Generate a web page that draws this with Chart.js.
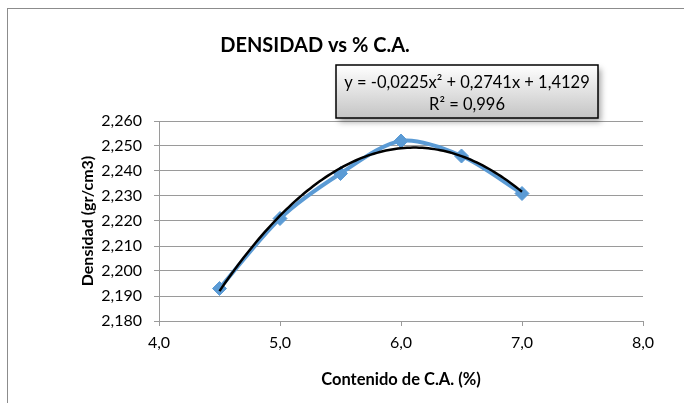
<!DOCTYPE html>
<html>
<head>
<meta charset="utf-8">
<title>DENSIDAD vs % C.A.</title>
<script src="https://cdn.jsdelivr.net/npm/chart.js@4"></script>
<style>
    html, body { margin: 0; padding: 0; background: #ffffff; }
    #wrap { width: 684px; height: 403px; }
</style>
</head>
<body>
<div id="wrap"><canvas id="densidadChart" width="684" height="403"></canvas></div>
<script>
// Data
var contenidoCA = [4.5, 5.0, 5.5, 6.0, 6.5, 7.0];
var densidad = [2.193, 2.221, 2.239, 2.252, 2.246, 2.231];
var xTicks = [4, 5, 6, 7, 8];
var yTicks = [2.18, 2.19, 2.20, 2.21, 2.22, 2.23, 2.24, 2.25, 2.26];
var equationLines = ['y = -0,0225x\u00B2 + 0,2741x + 1,4129', 'R\u00B2 = 0,996'];

var FONT = 'Lato, "Open Sans", sans-serif';
var BLUE = '#5B9BD5';
var GRID = '#9a9a9a';

document.addEventListener('DOMContentLoaded', function() {
    var points = contenidoCA.map(function(x, i) {
        return { x: x, y: densidad[i] };
    });

    // least squares 2nd order polynomial, like the Excel trendline
    function quadFit(xs, ys) {
        var s = [0, 0, 0, 0, 0], t = [0, 0, 0];
        for (var i = 0; i < xs.length; i++) {
            var p = 1;
            for (var k = 0; k < 5; k++) { s[k] += p; if (k < 3) t[k] += p * ys[i]; p *= xs[i]; }
        }
        var m = [[s[0], s[1], s[2], t[0]], [s[1], s[2], s[3], t[1]], [s[2], s[3], s[4], t[2]]];
        for (var c = 0; c < 3; c++) {
            for (var r = c + 1; r < 3; r++) {
                var f = m[r][c] / m[c][c];
                for (var j = c; j < 4; j++) m[r][j] -= f * m[c][j];
            }
        }
        var a = [0, 0, 0];
        for (var r2 = 2; r2 >= 0; r2--) {
            var v = m[r2][3];
            for (var j2 = r2 + 1; j2 < 3; j2++) v -= m[r2][j2] * a[j2];
            a[r2] = v / m[r2][r2];
        }
        return a; // c0 + c1 x + c2 x^2
    }
    var coef = quadFit(contenidoCA, densidad);

    var decorPlugin = {
        id: 'decor',
        beforeDraw: function(chart) {
            var ctx = chart.ctx;
            ctx.save();
            ctx.fillStyle = '#ffffff';
            ctx.fillRect(0, 0, chart.width, chart.height);
            ctx.strokeStyle = '#8c8c8c';
            ctx.lineWidth = 1;
            ctx.strokeRect(7.5, 8.5, 800, 600);
            ctx.restore();
        },
        afterDatasetsDraw: function(chart) {
            var ctx = chart.ctx;
            var xs = chart.scales.x, ys = chart.scales.y;
            var x0 = contenidoCA[0], x1 = contenidoCA[contenidoCA.length - 1];
            ctx.save();
            ctx.strokeStyle = '#000000';
            ctx.lineWidth = 2.5;
            ctx.lineJoin = 'round';
            ctx.beginPath();
            for (var i = 0; i <= 100; i++) {
                var x = x0 + (x1 - x0) * i / 100;
                var y = coef[0] + coef[1] * x + coef[2] * x * x;
                var px = xs.getPixelForValue(x), py = ys.getPixelForValue(y);
                if (i === 0) ctx.moveTo(px, py); else ctx.lineTo(px, py);
            }
            ctx.stroke();
            ctx.restore();
        },
        afterDraw: function(chart) {
            var ctx = chart.ctx;
            ctx.save();
            // title
            ctx.fillStyle = '#000000';
            ctx.font = 'bold 20px ' + FONT;
            ctx.textAlign = 'center';
            ctx.textBaseline = 'middle';
            ctx.fillText('DENSIDAD vs % C.A.', 315, 46);

            // trendline equation box
            var bx = 336, by = 65, bw = 262, bh = 53;
            ctx.save();
            ctx.shadowColor = 'rgba(0,0,0,0.35)';
            ctx.shadowBlur = 6;
            ctx.shadowOffsetX = 3;
            ctx.shadowOffsetY = 4;
            var g = ctx.createLinearGradient(0, by, 0, by + bh);
            g.addColorStop(0, '#ffffff');
            g.addColorStop(1, '#c4c4c4');
            ctx.fillStyle = g;
            ctx.fillRect(bx, by, bw, bh);
            ctx.restore();
            ctx.strokeStyle = '#000000';
            ctx.lineWidth = 1.5;
            ctx.strokeRect(bx, by, bw, bh);
            ctx.fillStyle = '#000000';
            ctx.font = '16.5px ' + FONT;
            ctx.fillText(equationLines[0], bx + bw / 2, 83);
            ctx.fillText(equationLines[1], bx + bw / 2, 105);
            ctx.restore();
        }
    };

    var ctx = document.getElementById('densidadChart').getContext('2d');
    var chart = new Chart(ctx, {
        type: 'line',
        data: {
            datasets: [{
                label: 'Densidad',
                data: points,
                borderColor: BLUE,
                backgroundColor: BLUE,
                borderWidth: 4,
                tension: 0.3,
                pointStyle: 'rectRot',
                pointRadius: 7,
                pointBorderWidth: 1,
                pointBackgroundColor: BLUE,
                pointBorderColor: BLUE,
                fill: false
            }]
        },
        options: {
            responsive: false,
            animation: false,
            devicePixelRatio: 1,
            layout: { padding: { left: 8, right: 41, top: 121, bottom: 0 } },
            plugins: {
                legend: { display: false },
                title: { display: false },
                tooltip: { enabled: false }
            },
            scales: {
                x: {
                    type: 'linear',
                    min: xTicks[0],
                    max: xTicks[xTicks.length - 1],
                    afterBuildTicks: function(scale) {
                        scale.ticks = xTicks.map(function(v) { return { value: v }; });
                    },
                    afterFit: function(scale) { scale.height = 82; },
                    ticks: {
                        color: '#000000',
                        font: { family: FONT, size: 16 },
                        padding: 7,
                        maxRotation: 0,
                        callback: function(v) { return v.toFixed(1).replace('.', ','); }
                    },
                    grid: { drawOnChartArea: false, color: GRID, tickColor: GRID, tickLength: 5 },
                    border: { color: GRID, width: 1 },
                    title: {
                        display: true,
                        text: 'Contenido de C.A. (%)',
                        color: '#000000',
                        font: { family: FONT, size: 16.5, weight: 'bold' },
                        padding: { top: 0, bottom: 13 }
                    }
                },
                y: {
                    min: yTicks[0],
                    max: yTicks[yTicks.length - 1],
                    afterBuildTicks: function(scale) {
                        scale.ticks = yTicks.map(function(v) { return { value: v }; });
                    },
                    afterFit: function(scale) { scale.width = 151; },
                    ticks: {
                        color: '#000000',
                        font: { family: FONT, size: 16 },
                        padding: 12,
                        callback: function(v) { return v.toFixed(3).replace('.', ','); }
                    },
                    grid: { color: GRID, tickColor: GRID, tickLength: 5 },
                    border: { color: GRID, width: 1 },
                    title: {
                        display: true,
                        text: 'Densidad (gr/cm3)',
                        color: '#000000',
                        font: { family: FONT, size: 16, weight: 'bold' },
                        padding: { top: 70, bottom: 0 }
                    }
                }
            }
        },
        plugins: [decorPlugin]
    });
});
</script>
</body>
</html>
